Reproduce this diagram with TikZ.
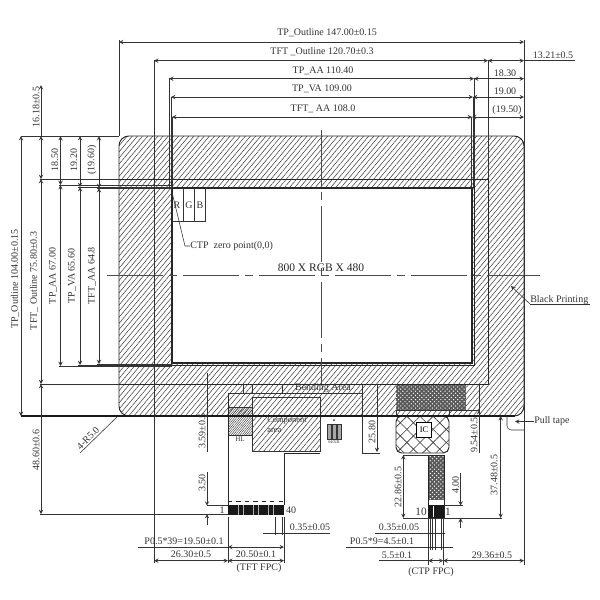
\documentclass[tikz,border=0pt]{standalone}
\usepackage{fontspec}
\setmainfont{Liberation Serif}
\usetikzlibrary{patterns, patterns.meta}
\tikzset{
	hatch/.style = {pattern = {Lines[angle=50, distance=2.8pt, line width=.35pt]}, pattern color = black!80},
	densehatch/.style = {pattern = {Lines[angle=50, distance=1.2pt, line width=.3pt]}, pattern color = black!80},
	speckle/.style = {fill = black!65, postaction = {pattern = crosshatch dots, pattern color = white}},
	dimtext/.style = {font = \fontsize{7.1}{8}\selectfont, text = black!80, inner sep = 0pt},
	vdimtext/.style = {dimtext, rotate = 90},
	dimline/.style = {line width = .4pt, black!80},
	edgeline/.style = {line width = .7pt, black!85},
	centerline/.style = {line width = .4pt, black!70, dash pattern = on 40pt off 4pt on 6pt off 4pt},
}

\begin{document}
\begin{tikzpicture}[x = 0.025cm, y = -0.025cm]
	\useasboundingbox (0,0) rectangle (600,600);

	% hatched panel and the parts below it
	\path [hatch, even odd rule, rounded corners = 7pt] (119,136) rectangle (524,416) [sharp corners] (172,188) rectangle (472,363);
	\path [hatch] (252,416) rectangle (320,451);
	\path [fill = white, densehatch, draw = black!80, line width = .5pt] (228,407) rectangle (252,435);
	\path [fill = white] (396,384) rectangle (466,410);
	\path [speckle] (396,384) rectangle (466,410);
	\path [speckle] (428,455) rectangle (444,500);

	\draw [edgeline, rounded corners = 7pt] (119,136) rectangle (524,416);
	\draw [line width = 1pt, black!85] (172,188) rectangle (472,363);
	\draw [edgeline] (170,187) -- (474,187) -- (474,365.5) -- (170,365.5);

	% crossed bonding area of the touch tail
	\draw [edgeline, fill = white, rounded corners = 4pt] (396,416) -- (396,453) -- (449,453) -- (449,416) -- cycle;
	\path [rounded corners = 4pt, pattern = {Lines[angle=45, distance=6.6pt, line width=.4pt]}, pattern color = black!80] (396,416) -- (396,453) -- (449,453) -- (449,416) -- cycle;
	\path [rounded corners = 4pt, pattern = {Lines[angle=-45, distance=6.6pt, line width=.4pt]}, pattern color = black!80] (396,416) -- (396,453) -- (449,453) -- (449,416) -- cycle;
	\draw [dimline] (396,410) -- (396,416) (449,410) -- (449,416);
	\node [draw, fill = white, minimum size = 11pt, inner sep = 0pt, font = \fontsize{6}{7}\selectfont] (ic) at (424,430) {IC};
	\draw [edgeline] (428,455) rectangle (444,518);
	\path [fill = black!90] (428,505) rectangle (444,518);
	\draw [white, line width = .6pt] (433,506) -- (433,517);

	% flat cable
	\draw [edgeline] (284,505) -- (284,453) -- (320,453);
	\draw [edgeline] (228,505) -- (228,393);
	\draw [edgeline, dashed] (228,501) -- (284,501);
	\path [fill = black!90] (228,505) rectangle (284,515);
	\foreach \stripe in {238,243,253,258,268,273}
		\draw [white!70!black, line width = .7pt] (\stripe,505) -- (\stripe,515);
	\draw [dimline] (252,397) rectangle (320,451);

	% lines across the panel
	\draw [edgeline] (119,179) -- (488,179) -- (488,384) -- (119,384);
	\draw [dimline] (228,393) -- (362,393);
	\foreach \tick in {243,252,282}
		\draw [dimline] (\tick,384) -- (\tick,393);
	\draw [dimline] (396,410) -- (480,410);
	\draw [line width = .8pt, black!90] (21,416) -- (515,416);
	\draw [centerline] (107,275) -- (540,275);
	\draw [centerline] (321,130) -- (321,384);

	% rgb cells
	\draw [dimline] (172,221) -- (205,221) -- (205,188) (183,188) -- (183,221) (194,188) -- (194,221);
	\node [dimtext] (cellr) at (177,205) {R};
	\node [dimtext] (cellg) at (189,205) {G};
	\node [dimtext] (cellb) at (200,205) {B};
	\coordinate (zero) at (171,188);
	\node [dimtext, anchor = west] (zerotext) at (190,246) {CTP\ \ zero point(0,0)};
	\draw [dimline] (zero) -- (185,246) -- (zerotext);

	\node [font = \fontsize{8.2}{10}\selectfont, text = black!85, inner sep = 0pt] (format) at (321,268) {800 X RGB X 480};
	\node [dimtext] (bending) at (323,388) {Bending Area};
	\node [dimtext, font = \fontsize{6}{7}\selectfont, align = left, anchor = north west] (component) at (267,417) {Component\\area};
	\node [dimtext, font = \fontsize{5}{6}\selectfont] (hl) at (240,439) {HL};

	% chip mark
	\fill [black!80] (334,420) circle (1);
	\foreach \stripe in {327,332,337}
		\draw [dimline, fill = black!35] (\stripe,424) rectangle (\stripe + 4,439);
	\node [dimtext, font = \fontsize{3}{3}\selectfont] (chipmark) at (334,442) {0402R};

	% extension lines
	\begin{scope}[dimline]
		\draw (119,40) -- (119,136);
		\draw (154,60) -- (154,563);
		\draw (169,78) -- (169,188);
		\draw (171,97) -- (171,188);
		\draw (172,117) -- (172,188);
		\draw (524,40) -- (524,565);
		\draw (488,60) -- (488,179);
		\draw (474,78) -- (474,187);
		\draw (473,97) -- (473,187);
		\draw (471.5,117) -- (471.5,188);
		\draw (21,136) -- (119,136);
		\draw (40,179) -- (119,179);
		\draw (59,185) -- (172,185);
		\draw (78,187) -- (172,187);
		\draw (97,188) -- (172,188);
		\draw (59,366) -- (172,366);
		\draw (78,365) -- (172,365);
		\draw (97,364) -- (172,364);
		\draw (40,384) -- (119,384);
		\draw (524,60.7) -- (575,60.7);
		\draw (207,373) -- (207,452);
		\draw (207,505.7) -- (228,505.7);
		\draw (40,514) -- (228,514);
		\draw (228,517) -- (228,563);
		\draw (284,517) -- (284,563);
		\draw (275,517) -- (275,535);
		\draw (282,517) -- (282,535);
		\draw (138,547) -- (228,547);
		\draw (263,533) -- (330,533);
		\draw (362,384) -- (362,453) -- (380,453);
		\draw (479,384) -- (479,453);
		\draw (403,455) -- (428,455);
		\draw (403,518) -- (502,518);
		\draw (444,505.6) -- (463,505.6);
		\draw (375,533) -- (445,533);
		\draw (346,547) -- (453,547);
		\draw (379,560.7) -- (428,560.7);
		\foreach \cut in {428.3,430.6,432.6,435,441,443.3}
			\draw (\cut,519) -- (\cut,550);
		\draw (428.3,550) -- (428.3,565) (443.3,550) -- (443.3,565);
	\end{scope}

	% dimension lines
	\begin{scope}[stealth-stealth, dimline]
		\draw (119,42) -- (524,42);
		\draw (154,60.7) -- (488,60.7);
		\draw (488,60.7) -- (524,60.7);
		\draw (169,78.7) -- (474,78.7);
		\draw (474,78.7) -- (524,78.7);
		\draw (171,97) -- (473,97);
		\draw (473,97) -- (524,97);
		\draw (172,117) -- (472,117);
		\draw (472,117) -- (524,117);
		\draw (21,136) -- (21,416);
		\draw (41,136) -- (41,179);
		\draw (41,179) -- (41,384);
		\draw (41,384) -- (41,514);
		\draw (60.5,136) -- (60.5,185);
		\draw (60.5,185) -- (60.5,366);
		\draw (80,136) -- (80,187);
		\draw (80,187) -- (80,365);
		\draw (99,136) -- (99,188);
		\draw (99,188) -- (99,364);
		\draw (228,547) -- (284,547);
		\draw (154,560.7) -- (228,560.7);
		\draw (228,560.7) -- (284,560.7);
		\draw (428.3,560.7) -- (443.3,560.7);
		\draw (443.3,560.7) -- (524,560.7);
		\draw (403.3,455) -- (403.3,518);
		\draw (500.7,416) -- (500.7,518);
	\end{scope}
	\begin{scope}[dimline]
		\draw [-stealth] (41,136) -- (41,85);
		\draw [-stealth] (207,472) -- (207,505.7);
		\draw [stealth-] (207,514) -- (207,525);
		\draw [-stealth] (377,384) -- (377,452);
		\draw [-stealth] (479,445) -- (479,410);
		\draw [-stealth] (460.6,473) -- (460.6,505.6);
		\draw [stealth-] (460.6,518) -- (460.6,528);
	\end{scope}

	% leaders
	\draw [dimline] (80,453) -- (118,416);
	\draw [dimline, rounded corners = 3pt] (507,416) -- (507,430) -- (524,430);
	\node [dimtext, anchor = west] (pulltape) at (534,421.5) {Pull tape};
	\draw [dimline, -stealth] (pulltape) -- (515,421.5);
	\node [dimtext, anchor = base west] (printing) at (530,302) {Black Printing};
	\coordinate (printingend) at (530,304);
	\draw [dimline] (590,304) -- (printingend);
	\draw [dimline, -stealth] (printingend) -- (511,286);

	% texts of the dimensions
	\node [dimtext] (tpwidth) at (327,33) {TP\_Outline 147.00±0.15};
	\node [dimtext] (tftwidth) at (322,52) {TFT\ \_Outline 120.70±0.3};
	\node [dimtext] (aawidth) at (323,71) {TP\_AA 110.40};
	\node [dimtext] (vawidth) at (322,89) {TP\_VA 109.00};
	\node [dimtext] (tftaawidth) at (323,109) {TFT\_ AA 108.0};
	\node [dimtext] (offsetright) at (553,55) {13.21±0.5};
	\node [dimtext] (offsetaa) at (505,73) {18.30};
	\node [dimtext] (offsetva) at (505,91) {19.00};
	\node [dimtext] (offsettft) at (507,110) {(19.50)};

	\node [vdimtext] (offsettop) at (36,107) {16.18±0.5};
	\node [vdimtext] (tpheight) at (15,279) {TP\_Outline 104.00±0.15};
	\node [vdimtext] (tftheight) at (34,281) {TFT\_ Outline 75.80±0.3};
	\node [vdimtext] (aaheight) at (53,276) {TP\_AA 67.00};
	\node [vdimtext] (vaheight) at (72,276) {TP\_VA 65.60};
	\node [vdimtext] (tftaaheight) at (92,276) {TFT\_AA 64.8};
	\node [vdimtext] (topaa) at (55,160) {18.50};
	\node [vdimtext] (topva) at (74,160) {19.20};
	\node [vdimtext] (toptft) at (92,160) {(19.60)};
	\node [vdimtext] (offsetbottom) at (36,450) {48.60±0.6};
	\node [dimtext, rotate = 45] (radius) at (88,438) {4-R5.0};

	\node [vdimtext] (benddim) at (202,431) {3.59±0.5};
	\node [vdimtext] (pinzone) at (202,483) {3.50};
	\node [dimtext] (pinfirst) at (222,510) {1};
	\node [dimtext] (pinlast) at (291,510) {40};
	\node [dimtext] (pinwidth) at (310,527) {0.35±0.05};
	\node [dimtext] (pitch) at (184,541) {P0.5*39=19.50±0.1};
	\node [dimtext] (fpcoffset) at (191,554) {26.30±0.5};
	\node [dimtext] (fpcwidth) at (256,554) {20.50±0.1};
	\node [dimtext] (tftfpc) at (259,568) {(TFT FPC)};

	\node [vdimtext] (ribbon) at (372,432) {25.80};
	\node [vdimtext] (icband) at (474,435) {9.54±0.5};
	\node [vdimtext] (tail) at (398,487) {22.86±0.5};
	\node [vdimtext] (tailzone) at (455.7,485) {4.00};
	\node [vdimtext] (tailfull) at (494,475) {37.48±0.5};
	\node [dimtext, font = \fontsize{8}{9}\selectfont] (tailten) at (421,512) {10};
	\node [dimtext, font = \fontsize{8}{9}\selectfont] (tailone) at (448,512) {1};
	\node [dimtext] (tailpin) at (399,527.6) {0.35±0.05};
	\node [dimtext] (tailpitch) at (382,541) {P0.5*9=4.5±0.1};
	\node [dimtext] (tailwidth) at (397,555) {5.5±0.1};
	\node [dimtext] (tailoffset) at (492,555) {29.36±0.5};
	\node [dimtext] (ctpfpc) at (431,572) {(CTP FPC)};
\end{tikzpicture}
\end{document}
